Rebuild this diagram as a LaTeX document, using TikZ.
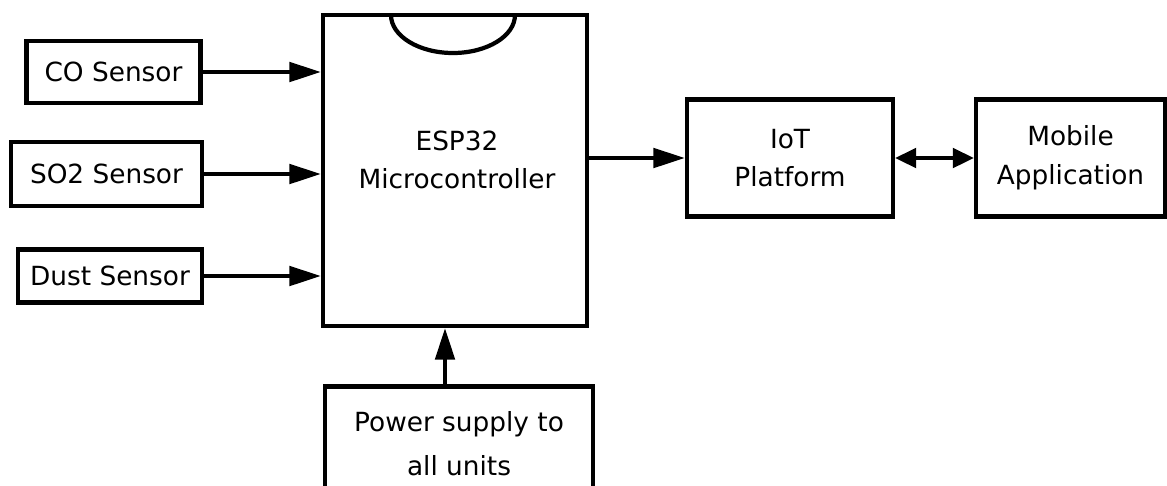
\documentclass[tikz,border=0pt]{standalone}
\usepackage{fontspec}
\setmainfont{DejaVu Sans}
\usetikzlibrary{arrows.meta}
\begin{document}
\begin{tikzpicture}[x=0.02cm,y=-0.02cm,
  box/.style={draw,line width=2.4pt,inner sep=0pt,align=center,font=\fontsize{15}{22}\selectfont},
  txt/.style={inner sep=0pt,align=center,font=\fontsize{15}{22}\selectfont},
  arr/.style={line width=2.4pt,-{Triangle[length=18pt,width=11pt]}},
  darr/.style={line width=2.4pt,{Triangle[length=12pt,width=11pt]}-{Triangle[length=12pt,width=11pt]}}]
\useasboundingbox (0,0) rectangle (1167,485);
\node[box,minimum width=3.48cm,minimum height=1.24cm] (co) at (113.5,72) {CO Sensor};
\node[box,minimum width=3.82cm,minimum height=1.28cm] (so2) at (106.5,174) {SO2 Sensor};
\node[box,minimum width=3.68cm,minimum height=1.06cm] (dust) at (110,276) {Dust Sensor};
\node[box,minimum width=5.28cm,minimum height=6.22cm] (esp) at (455,170.5) {};
\node[txt] (esptext) at (457,160) {ESP32\\Microcontroller};
\node[box,minimum width=4.12cm,minimum height=2.34cm] (iot) at (790,158) {IoT\\Platform};
\node[box,minimum width=3.78cm,minimum height=2.34cm] (mob) at (1070.5,158) {Mobile\\Application};
\node[box,minimum width=5.36cm,minimum height=2.3cm,font=\fontsize{15}{25}\selectfont] (pow) at (459,444) {Power supply to\\all units};
\draw[line width=2.4pt] (391,15) arc[start angle=180,end angle=360,x radius=1.24cm,y radius=0.76cm];
\draw[arr] (co.east) -- (co.east -| esp.west);
\draw[arr] (so2.east) -- (so2.east -| esp.west);
\draw[arr] (dust.east) -- (dust.east -| esp.west);
\draw[arr] (esp.east |- iot.west) -- (iot.west);
\draw[darr] (iot.east) -- (mob.west);
\draw[arr] ([xshift=-0.28cm]pow.north) -- ([xshift=-0.28cm]pow.north |- esp.south);
\end{tikzpicture}
\end{document}
